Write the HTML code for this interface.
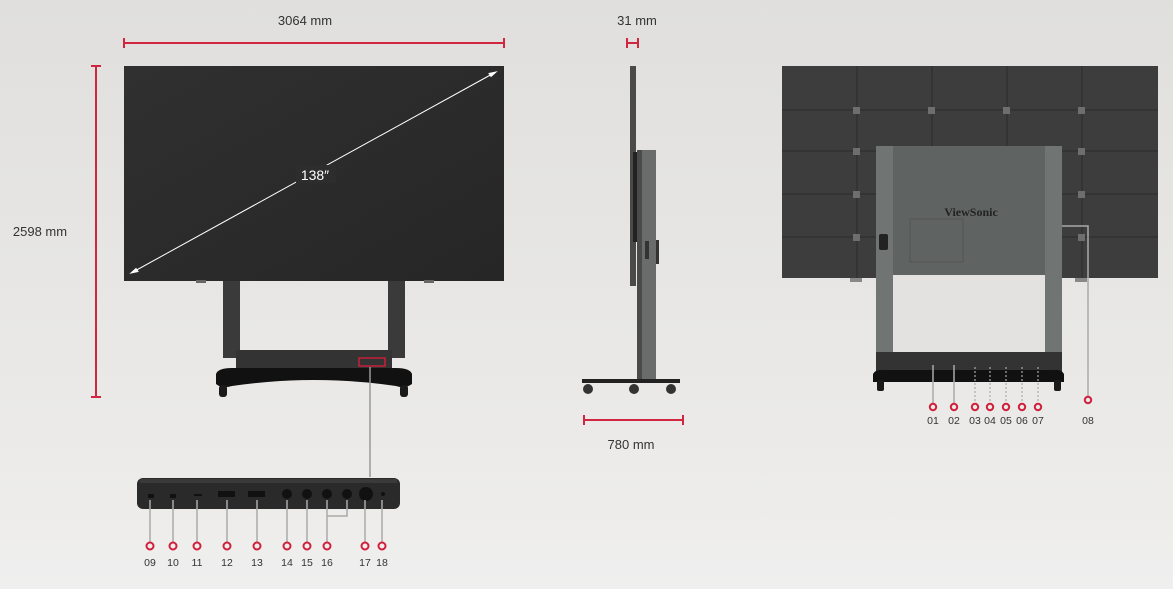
<!DOCTYPE html>
<html><head><meta charset="utf-8"><style>
html,body{margin:0;padding:0;width:1173px;height:589px;overflow:hidden}
svg{display:block}
text{font-family:"Liberation Sans",sans-serif;fill:#333}
</style></head><body>
<svg width="1173" height="589" viewBox="0 0 1173 589" xmlns="http://www.w3.org/2000/svg">
<defs>
<linearGradient id="bg" x1="0" y1="0" x2="0" y2="1">
<stop offset="0" stop-color="#e0dfdd"/><stop offset="0.85" stop-color="#edecea"/><stop offset="1" stop-color="#efefef"/>
</linearGradient>
<linearGradient id="scr" x1="0" y1="0" x2="1" y2="1">
<stop offset="0" stop-color="#303030"/><stop offset="1" stop-color="#262626"/>
</linearGradient>
</defs>
<rect width="1173" height="589" fill="url(#bg)"/>

<g stroke="#d0263f" stroke-width="2" fill="none">
<line x1="124" y1="43" x2="504" y2="43"/><line x1="124" y1="38" x2="124" y2="48"/><line x1="504" y1="38" x2="504" y2="48"/>
<line x1="96" y1="66" x2="96" y2="397"/><line x1="91" y1="66" x2="101" y2="66"/><line x1="91" y1="397" x2="101" y2="397"/>
<line x1="627" y1="43" x2="638" y2="43"/><line x1="627" y1="38" x2="627" y2="48"/><line x1="638" y1="38" x2="638" y2="48"/>
<line x1="584" y1="420" x2="683" y2="420"/><line x1="584" y1="415" x2="584" y2="425"/><line x1="683" y1="415" x2="683" y2="425"/>
</g>
<text x="305" y="25" font-size="13" text-anchor="middle">3064 mm</text>
<text x="40" y="236" font-size="13" text-anchor="middle">2598 mm</text>
<text x="637" y="25" font-size="13" text-anchor="middle">31 mm</text>
<text x="631" y="449" font-size="13" text-anchor="middle">780 mm</text>

<rect x="223" y="278" width="17" height="80" fill="#3a3a3a"/>
<rect x="388" y="278" width="17" height="80" fill="#3a3a3a"/>
<rect x="236" y="350" width="156" height="19" fill="#333"/>
<rect x="359" y="358" width="26" height="8" fill="none" stroke="#c8203a" stroke-width="1.5"/>
<path d="M216 374 Q218 368 232 368 L396 368 Q410 368 412 374 L412 384 Q405 389 396 386 Q314 374 232 386 Q222 389 216 384 Z" fill="#111"/>
<rect x="219" y="385" width="8" height="12" rx="3" fill="#1a1a1a"/>
<rect x="400" y="385" width="8" height="12" rx="3" fill="#1a1a1a"/>
<rect x="124" y="66" width="380" height="215" fill="url(#scr)"/>
<rect x="196" y="280" width="10" height="3" fill="#666"/>
<rect x="424" y="280" width="10" height="3" fill="#666"/>
<g stroke="#fff" stroke-width="1" fill="#fff">
<line x1="133" y1="272" x2="494" y2="73"/>
<path d="M131 273 l7 -1.5 l-2 -3 z"/><path d="M496 72 l-7 1.5 l2 3 z"/>
</g>
<rect x="296" y="165" width="40" height="18" fill="#2d2d2d"/>
<text x="315" y="180" font-size="14" style="fill:#fff" text-anchor="middle">138″</text>
<line x1="370" y1="367" x2="370" y2="477" stroke="#999" stroke-width="1.5"/>

<rect x="630" y="66" width="6" height="220" fill="#4a4a4a"/>
<rect x="633" y="152" width="6" height="90" fill="#222"/>
<rect x="637" y="150" width="19" height="232" fill="#6a6c6c"/>
<rect x="637" y="150" width="5" height="232" fill="#4a4a4a"/>
<rect x="645" y="241" width="4" height="18" fill="#333"/>
<rect x="656" y="240" width="3" height="24" fill="#333"/>
<rect x="582" y="379" width="98" height="4" fill="#222"/>
<circle cx="588" cy="389" r="5" fill="#333"/><circle cx="634" cy="389" r="5" fill="#333"/><circle cx="671" cy="389" r="5" fill="#333"/>

<rect x="782" y="66" width="376" height="212" fill="#3d3d3d"/>
<g stroke="#2c2c2c" stroke-width="1">
<line x1="857" y1="66" x2="857" y2="278"/><line x1="932" y1="66" x2="932" y2="278"/><line x1="1007" y1="66" x2="1007" y2="278"/><line x1="1082" y1="66" x2="1082" y2="278"/>
<line x1="782" y1="110" x2="1158" y2="110"/><line x1="782" y1="151" x2="1158" y2="151"/><line x1="782" y1="194" x2="1158" y2="194"/><line x1="782" y1="237" x2="1158" y2="237"/>
</g>
<g fill="#6e6e6e">
<rect x="853" y="107" width="7" height="7"/><rect x="928" y="107" width="7" height="7"/><rect x="1003" y="107" width="7" height="7"/><rect x="1078" y="107" width="7" height="7"/>
<rect x="853" y="148" width="7" height="7"/><rect x="1078" y="148" width="7" height="7"/>
<rect x="853" y="191" width="7" height="7"/><rect x="1078" y="191" width="7" height="7"/>
<rect x="853" y="234" width="7" height="7"/><rect x="1078" y="234" width="7" height="7"/>
</g>
<rect x="850" y="278" width="12" height="4" fill="#888"/><rect x="1075" y="278" width="12" height="4" fill="#888"/>
<rect x="876" y="146" width="186" height="230" fill="#5f6463"/>
<rect x="876" y="146" width="17" height="230" fill="#707473"/>
<rect x="1045" y="146" width="17" height="230" fill="#707473"/>
<rect x="893" y="275" width="152" height="78" fill="#e3e2e0"/>
<rect x="876" y="352" width="186" height="20" fill="#333"/>
<rect x="910" y="219" width="53" height="43" fill="none" stroke="#555" stroke-width="1"/>
<text x="971" y="216" font-size="12" font-weight="bold" text-anchor="middle" style="font-family:'Liberation Serif',serif;fill:#222">ViewSonic</text>
<rect x="879" y="234" width="9" height="16" rx="2" fill="#222"/>
<path d="M873 374 Q875 369 885 370 L1052 370 Q1062 369 1064 374 L1064 382 L873 382 Z" fill="#111"/>
<rect x="877" y="380" width="7" height="11" rx="2" fill="#1a1a1a"/><rect x="1054" y="380" width="7" height="11" rx="2" fill="#1a1a1a"/>
<g stroke="#aaa" stroke-width="1.5" fill="none">
<line x1="933" y1="365" x2="933" y2="403"/><line x1="954" y1="365" x2="954" y2="403"/>
<path d="M1088 396 L1088 226 L1062 226"/>
</g>
<g stroke="#aaa" stroke-width="1.2" stroke-dasharray="2,2">
<line x1="975" y1="367" x2="975" y2="403"/><line x1="990" y1="367" x2="990" y2="403"/><line x1="1006" y1="367" x2="1006" y2="403"/><line x1="1022" y1="367" x2="1022" y2="403"/><line x1="1038" y1="367" x2="1038" y2="403"/>
</g>
<g fill="none" stroke="#d0203c" stroke-width="2">
<circle cx="933" cy="407" r="3.2"/><circle cx="954" cy="407" r="3.2"/><circle cx="975" cy="407" r="3.2"/><circle cx="990" cy="407" r="3.2"/><circle cx="1006" cy="407" r="3.2"/><circle cx="1022" cy="407" r="3.2"/><circle cx="1038" cy="407" r="3.2"/><circle cx="1088" cy="400" r="3.2"/>
</g>
<g font-size="10.5" text-anchor="middle">
<text x="933" y="424">01</text><text x="954" y="424">02</text><text x="975" y="424">03</text><text x="990" y="424">04</text><text x="1006" y="424">05</text><text x="1022" y="424">06</text><text x="1038" y="424">07</text><text x="1088" y="424">08</text>
</g>

<rect x="137" y="478" width="263" height="31" rx="6" fill="#2a2a2a"/>
<rect x="140" y="479" width="257" height="4" fill="#3a3a3a"/>
<g fill="#111">
<rect x="148" y="494" width="6" height="4"/><rect x="170" y="494" width="6" height="4"/><rect x="194" y="494" width="8" height="2"/>
<rect x="218" y="491" width="17" height="6"/><rect x="248" y="491" width="17" height="6"/>
<circle cx="287" cy="494" r="5"/><circle cx="307" cy="494" r="5"/><circle cx="327" cy="494" r="5"/><circle cx="347" cy="494" r="5"/><circle cx="366" cy="494" r="7"/><circle cx="383" cy="494" r="2"/>
</g>
<g stroke="#aaa" stroke-width="1.5" fill="none">
<line x1="150" y1="500" x2="150" y2="542"/><line x1="173" y1="500" x2="173" y2="542"/><line x1="197" y1="500" x2="197" y2="542"/><line x1="227" y1="500" x2="227" y2="542"/><line x1="257" y1="500" x2="257" y2="542"/><line x1="287" y1="500" x2="287" y2="542"/><line x1="307" y1="500" x2="307" y2="542"/><line x1="327" y1="500" x2="327" y2="542"/><path d="M327 516 L347 516 L347 500"/><line x1="365" y1="500" x2="365" y2="542"/><line x1="382" y1="500" x2="382" y2="542"/>
</g>
<g fill="none" stroke="#d0203c" stroke-width="2">
<circle cx="150" cy="546" r="3.5"/><circle cx="173" cy="546" r="3.5"/><circle cx="197" cy="546" r="3.5"/><circle cx="227" cy="546" r="3.5"/><circle cx="257" cy="546" r="3.5"/><circle cx="287" cy="546" r="3.5"/><circle cx="307" cy="546" r="3.5"/><circle cx="327" cy="546" r="3.5"/><circle cx="365" cy="546" r="3.5"/><circle cx="382" cy="546" r="3.5"/>
</g>
<g font-size="10.5" text-anchor="middle">
<text x="150" y="566">09</text><text x="173" y="566">10</text><text x="197" y="566">11</text><text x="227" y="566">12</text><text x="257" y="566">13</text><text x="287" y="566">14</text><text x="307" y="566">15</text><text x="327" y="566">16</text><text x="365" y="566">17</text><text x="382" y="566">18</text>
</g>
</svg>
</body></html>
